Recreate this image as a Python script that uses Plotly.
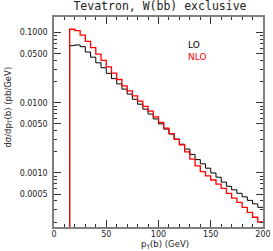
import plotly.graph_objects as go

# bin lower edges (GeV), 5 GeV bins from 15 to 200
bin_width = 5
pt_low = [15 + bin_width * k for k in range(37)]

# d sigma / d pT(b) in pb/GeV
lo = [0.0653, 0.0668, 0.0631, 0.0530, 0.0447, 0.0372, 0.0316, 0.0263, 0.0221, 0.0186,
      0.01567, 0.01330, 0.01122, 0.00955, 0.00813, 0.00692, 0.00589, 0.00501, 0.00422, 0.00359,
      0.00304, 0.00257, 0.00219, 0.00184, 0.00155, 0.00135, 0.00117, 0.00100, 0.000871, 0.000741,
      0.000646, 0.000575, 0.000513, 0.000457, 0.000407, 0.000363, 0.000324]
nlo = [0.1117, 0.1067, 0.0923, 0.0750, 0.0610, 0.0494, 0.0402, 0.0326, 0.0265, 0.0215,
       0.01746, 0.01479, 0.01259, 0.01059, 0.00891, 0.00759, 0.00631, 0.00525, 0.00437, 0.00363,
       0.00302, 0.00251, 0.00200, 0.00158, 0.00126, 0.001047, 0.000912, 0.000794, 0.000692, 0.000603,
       0.000513, 0.000437, 0.000380, 0.000324, 0.000275, 0.000234, 0.000200]

y_tickvals = [0.1, 0.05, 0.01, 0.005, 0.001, 0.0005]
y_ticktext = ["0.1000", "0.0500", "0.0100", "0.0050", "0.0010", "0.0005"]
x_tickvals = [0, 50, 100, 150, 200]

floor = 1e-6


def step_xy(vals):
    xs = [pt_low[0]] + pt_low + [pt_low[-1] + bin_width]
    ys = [floor] + vals + [vals[-1]]
    return xs, ys


fig = go.Figure()
x1, y1 = step_xy(lo)
fig.add_trace(go.Scatter(x=x1, y=y1, mode="lines", line=dict(color="#000000", width=1, shape="hv"),
                         name="LO", showlegend=False))
x2, y2 = step_xy(nlo)
fig.add_trace(go.Scatter(x=x2, y=y2, mode="lines", line=dict(color="#ff0000", width=1.3, shape="hv"),
                         name="NLO", showlegend=False))

minor_y = []
for dec in [1e-4, 1e-3, 1e-2, 1e-1]:
    for m in range(2, 10):
        v = m * dec
        if 0.00017 < v < 0.167 and v not in y_tickvals:
            minor_y.append(v)

axis_common = dict(showgrid=False, zeroline=False, showline=True, linecolor="#808080", linewidth=1.5,
                   mirror="ticks", ticks="inside", tickcolor="#333333", tickwidth=1, automargin=False,
                   tickfont=dict(family="DejaVu Sans", size=8, color="#222222"))

fig.update_xaxes(range=[0, 200], tickmode="array", tickvals=x_tickvals, ticklen=7, ticklabelstandoff=-1,
                 minor=dict(tickmode="array", tickvals=[v for v in range(10, 200, 10) if v % 50],
                            ticks="inside", ticklen=3, tickcolor="#333333"),
                 **axis_common)
fig.update_yaxes(type="log", range=[-3.77, -0.777], tickmode="array", tickvals=y_tickvals,
                 ticktext=y_ticktext, ticklen=7, ticklabelstandoff=3,
                 minor=dict(tickmode="array", tickvals=minor_y, ticks="inside", ticklen=3, tickcolor="#333333"),
                 **axis_common)

fig.add_annotation(text="dσ/dp<sub>T</sub>(b) (pb/GeV)", x=-0.22, y=0.569, xref="paper", yref="paper",
                   xanchor="center", yanchor="middle", textangle=-90, showarrow=False,
                   font=dict(family="DejaVu Sans", size=8.5, color="#222222"))
fig.add_annotation(text="p<sub>T</sub>(b) (GeV)", x=0.531, y=-0.085, xref="paper", yref="paper",
                   xanchor="center", yanchor="middle", showarrow=False,
                   font=dict(family="DejaVu Sans", size=8.5, color="#222222"))

fig.add_annotation(text="LO", x=0.63, y=0.865, xref="paper", yref="paper", xanchor="left", yanchor="middle",
                   showarrow=False, font=dict(family="DejaVu Sans", size=9, color="#000000"))
fig.add_annotation(text="NLO", x=0.63, y=0.81, xref="paper", yref="paper", xanchor="left", yanchor="middle",
                   showarrow=False, font=dict(family="DejaVu Sans", size=9, color="#ff0000"))

fig.update_layout(
    width=273, height=251,
    margin=dict(l=54, r=10, t=17, b=24),
    paper_bgcolor="white", plot_bgcolor="white",
    title=dict(text="Tevatron, W(bb) exclusive", x=0.586, xanchor="center", y=0.975, yanchor="middle",
               font=dict(family="DejaVu Sans Mono", size=11.5, color="#222222")),
)

fig.write_html("out.html", config={"displayModeBar": False},
               post_script="document.body.style.margin='0';document.body.style.overflow='hidden';")
